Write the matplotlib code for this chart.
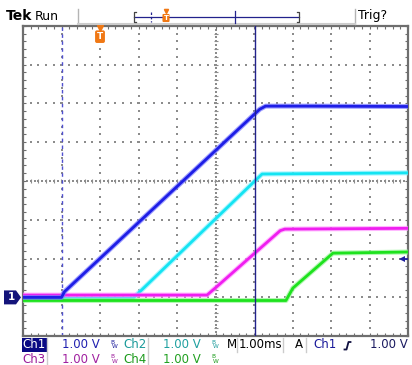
import matplotlib.pyplot as plt
import numpy as np
from matplotlib import transforms
from matplotlib.lines import Line2D
from matplotlib.patches import Polygon, Rectangle

W, H = 412, 365

# 波形数据: 时间 (ms, 相对触发点), 电压 (V), 从截图读出
ch1_t = [-2.0, -1.0, -0.92, 4.15, 4.3, 5.5, 8.0]
ch1_v = [0.0, 0.0, 0.15, 4.85, 4.93, 4.93, 4.92]
ch2_t = [-2.0, 0.86, 4.21, 5.5, 8.0]
ch2_v = [-0.02, -0.02, 3.18, 3.19, 3.21]
ch3_t = [-2.0, 2.78, 2.98, 4.68, 4.8, 8.0]
ch3_v = [0.06, 0.06, 0.23, 1.72, 1.76, 1.78]
ch4_t = [-2.0, 4.83, 5.01, 6.05, 8.0]
ch4_v = [-0.08, -0.08, 0.24, 1.14, 1.17]

channels = ["Ch1", "Ch2", "Ch3", "Ch4"]
scale_labels = ["1.00 V", "1.00 V", "1.00 V", "1.00 V"]
timebase_label = "1.00ms"
trig_source = "Ch1"
trig_level_label = "1.00 V"
trig_level = 1.0
trig_time = 0.0
cursor_a = -1.0
cursor_b = 4.03
x_lim = (-2, 8)
y_lim = (-1, 7)


def fx(x):
    return x / W


def fy(y):
    return 1 - y / H


def main():
    fig = plt.figure(figsize=(W / 100, H / 100), dpi=100)
    ax = fig.add_axes([23 / W, 1 - 336.2 / H, 385 / W, 310.4 / H])
    ax.set_xlim(*x_lim)
    ax.set_ylim(*y_lim)

    # 边框和刻度
    for s in ax.spines.values():
        s.set_color("#6e6e6e")
        s.set_linewidth(1.6)
    ax.set_xticks(np.arange(-2, 8.01, 1))
    ax.set_yticks(np.arange(-1, 7.01, 1))
    ax.set_xticks(np.arange(-2, 8.01, 0.2), minor=True)
    ax.set_yticks(np.arange(-1, 7.01, 0.2), minor=True)
    ax.tick_params(which="both", direction="in", length=2.2, width=0.8,
                   color="#6e6e6e", top=True, right=True,
                   labelbottom=False, labelleft=False)

    # 点状网格
    dot_c = "#8c8c8c"
    ys = np.arange(-1, 7.01, 0.2)
    xs = np.arange(-2, 8.01, 0.2)
    for gx in range(-1, 8):
        if gx == 3:
            continue
        ax.scatter(np.full(len(ys), gx), ys, s=1.0, c=dot_c, marker="s", linewidths=0, zorder=1)
    for gy in range(0, 7):
        if gy == 3:
            continue
        ax.scatter(xs, np.full(len(xs), gy), s=1.0, c=dot_c, marker="s", linewidths=0, zorder=1)
    # 中心十字线
    ys2 = np.arange(-1, 7.01, 0.1)
    xs2 = np.arange(-2, 8.01, 0.1)
    ax.scatter(np.full(len(ys2), 3), ys2, s=1.0, c=dot_c, marker="s", linewidths=0, zorder=1)
    ax.scatter(xs2, np.full(len(xs2), 3), s=1.0, c=dot_c, marker="s", linewidths=0, zorder=1)
    ax.plot(np.full(len(ys), 3), ys, ls="none", marker="_", ms=3.5, mew=0.8, color=dot_c, zorder=1)
    ax.plot(xs, np.full(len(xs), 3), ls="none", marker="|", ms=3.5, mew=0.8, color=dot_c, zorder=1)

    # 光标
    ax.axvline(cursor_a, color="#5050d0", ls=(0, (2.5, 2.5)), lw=1.0, zorder=2)
    ax.axvline(cursor_b, color="#22228c", lw=1.0, zorder=6)

    # 波形
    traces = [
        (ch2_t, ch2_v, "#14e4f2", "#8af2ff", 3),
        (ch4_t, ch4_v, "#1ee21e", "#96f596", 3.2),
        (ch3_t, ch3_v, "#f01ef0", "#ff96ff", 3.4),
        (ch1_t, ch1_v, "#1e1ee6", "#7878ff", 3.6),
    ]
    for t, v, c, halo, z in traces:
        ax.plot(t, v, color=halo, lw=3.6, alpha=0.7, zorder=z)
        ax.plot(t, v, color=c, lw=2.0, zorder=z + 0.05)

    # 触发位置 T 标记
    blend_top = transforms.blended_transform_factory(ax.transData, ax.transAxes)
    ax.plot(trig_time, 0.993, marker="v", ms=5, color="#f07814", transform=blend_top,
            clip_on=False, zorder=7)
    ax.text(trig_time, 0.965, "T", color="white", fontsize=6.5, fontweight="bold",
            ha="center", va="center", transform=blend_top, zorder=7,
            bbox=dict(boxstyle="round,pad=0.2", fc="#f07814", ec="none"))

    # 触发电平箭头
    ax.plot([7.84, 7.98], [trig_level, trig_level], color="#1e1ea0", lw=1.3,
            clip_on=False, zorder=8)
    ax.plot(7.84, trig_level, marker="<", ms=4.5, color="#1e1ea0", mew=0,
            clip_on=False, zorder=8)

    # Ch1 地电平标记
    blend_l = transforms.blended_transform_factory(fig.transFigure, ax.transData)
    d = 0.18
    gnd = Polygon([(fx(4), d), (fx(16), d), (fx(21), 0), (fx(16), -d), (fx(4), -d)],
                  closed=True, fc="#14147a", ec="none", transform=blend_l)
    fig.add_artist(gnd)
    fig.text(fx(11), fy(297.4), "1", color="white",
             fontsize=7.5, fontweight="bold", ha="center", va="center")

    # 顶部状态栏
    fig.text(fx(6), fy(16), "Tek", fontsize=10, fontweight="bold", va="center")
    fig.text(fx(35), fy(16), "Run", fontsize=9, va="center")
    fig.text(fx(358), fy(16), "Trig?", fontsize=9, va="center")
    gray = "#b4b4b4"
    navy = "#22228c"
    fig.add_artist(Line2D([fx(78), fx(78)], [fy(9), fy(24)], color=gray, lw=1))
    fig.add_artist(Line2D([fx(355), fx(355)], [fy(9), fy(24)], color=gray, lw=1))
    fig.add_artist(Line2D([fx(78), fx(355)], [fy(23.5), fy(23.5)], color="#cccccc", lw=1.5))
    fig.add_artist(Line2D([fx(134), fx(299)], [fy(17), fy(17)], color=navy, lw=0.9))
    for bx, sgn in [(134, 1), (299, -1)]:
        fig.add_artist(Line2D([fx(bx + 2 * sgn), fx(bx), fx(bx), fx(bx + 2 * sgn)],
                              [fy(12), fy(12), fy(22), fy(22)], color="#444444", lw=0.9))
    fig.add_artist(Line2D([fx(151), fx(151)], [fy(12), fy(22)], color=navy, lw=0.9, ls=(0, (2, 1.5))))
    fig.add_artist(Line2D([fx(235), fx(235)], [fy(11), fy(23)], color=navy, lw=0.9))
    fig.text(fx(166), fy(18), "T", color="white", fontsize=5, fontweight="bold",
             ha="center", va="center",
             bbox=dict(boxstyle="round,pad=0.15", fc="#f07814", ec="none"))
    fig.add_artist(Line2D([fx(166)], [fy(11)], marker="v", ms=3, color="#f07814"))

    # 底部通道信息
    ch_colors = ["#1a1a9a", "#1a9a9a", "#9a1a9a", "#1a9a1a"]
    val_colors = ["#2020b0", "#20a0a0", "#a020a0", "#20a020"]
    rows = [345, 359.5]
    fs = 8.5
    for i, name in enumerate(channels):
        col = i % 2
        row = rows[i // 2]
        x0 = 22 if col == 0 else 123
        if i == 0:
            fig.add_artist(Rectangle((fx(21.5), fy(352)), 25 / W, 14 / H,
                                     transform=fig.transFigure, fc="#0a0a84", ec="none"))
            fig.text(fx(x0 + 0.5), fy(row), name, color="white", fontsize=fs, va="center")
        else:
            fig.text(fx(x0 + 0.5), fy(row), name, color=ch_colors[i], fontsize=fs, va="center")
        fig.text(fx(x0 + 40), fy(row), scale_labels[i], color=val_colors[i], fontsize=fs, va="center")
        fig.text(fx(x0 + 88), fy(row - 3), "B", color=ch_colors[i], fontsize=4.2, va="center")
        fig.text(fx(x0 + 90), fy(row + 2), "W", color=ch_colors[i], fontsize=4.2, va="center")
        fig.add_artist(Line2D([fx(x0 + 25), fx(x0 + 25)], [fy(row - 7), fy(row + 7)], color="#cccccc", lw=1))

    fig.text(fx(226.5), fy(345), "M", color="black", fontsize=fs, va="center")
    fig.add_artist(Line2D([fx(237), fx(237)], [fy(338), fy(352)], color="#cccccc", lw=1))
    fig.text(fx(238.5), fy(345), timebase_label, color="black", fontsize=fs, va="center")
    fig.add_artist(Line2D([fx(282.5), fx(282.5)], [fy(338), fy(352)], color="#cccccc", lw=1))
    fig.text(fx(295), fy(345), "A", color="black", fontsize=fs, va="center")
    fig.add_artist(Line2D([fx(306), fx(306)], [fy(338), fy(352)], color="#cccccc", lw=1))
    fig.text(fx(313), fy(345), trig_source, color=ch_colors[0], fontsize=fs, va="center")
    fig.add_artist(Line2D([fx(344.5), fx(346.5), fx(348.5), fx(350.5)],
                          [fy(349.5), fy(349.5), fy(342), fy(342)], color="#101040", lw=1.3))
    fig.text(fx(370), fy(345), trig_level_label, color="#1a1a60", fontsize=fs, va="center")

    plt.savefig("out.png", dpi=100, facecolor="white")


if __name__ == "__main__":
    main()
